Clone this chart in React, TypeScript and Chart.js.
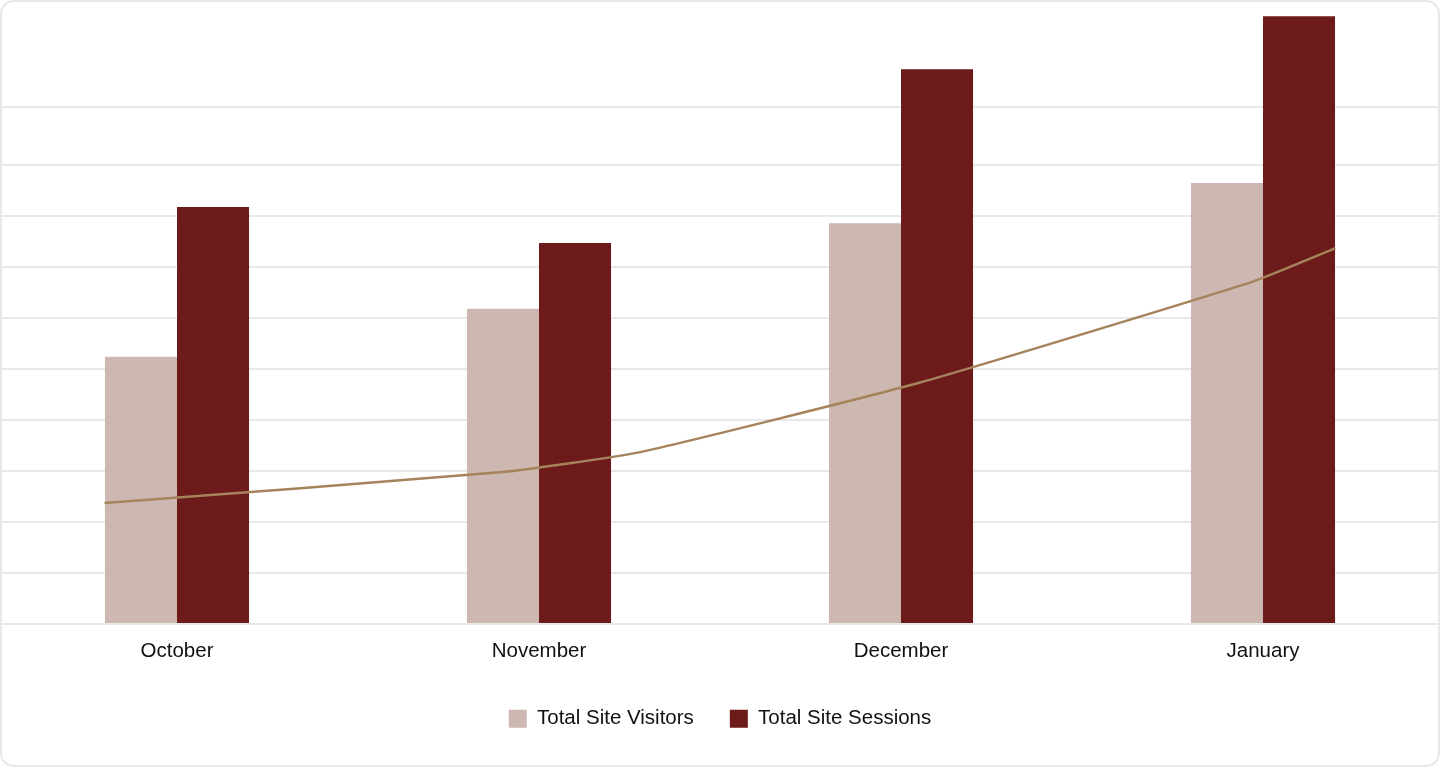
import React, { useEffect, useRef } from "react";
import { Chart, registerables } from "chart.js";

Chart.register(...registerables);

const months = ["October", "November", "December", "January"];
const siteVisitors = [524, 618, 786, 865];
const siteSessions = [818, 747, 1088, 1192];
const trendPositions = [-0.2, 0.9, 1.28, 2.05, 2.97, 3.2];
const trendValues = [237, 298, 337, 473, 671, 737];
const gridTicks = [0, 100, 200, 300, 400, 500, 600, 700, 800, 900, 1014];

const FONT = 'Arial, "Liberation Sans", sans-serif';

export default function App() {
  const ref = useRef<HTMLCanvasElement | null>(null);

  useEffect(() => {
    document.body.style.margin = "0";
    const ctx = ref.current;
    if (!ctx) return;
    const chart = new Chart(ctx, {
      type: "bar",
      data: {
        datasets: [
          {
            type: "bar",
            label: "Total Site Visitors",
            data: siteVisitors.map((y, i) => ({ x: i, y })),
            backgroundColor: "#cdb8b1",
            categoryPercentage: 0.398,
            barPercentage: 1.0,
            order: 2,
          },
          {
            type: "bar",
            label: "Total Site Sessions",
            data: siteSessions.map((y, i) => ({ x: i, y })),
            backgroundColor: "#6d1a1a",
            categoryPercentage: 0.398,
            barPercentage: 1.0,
            order: 2,
          },
          {
            type: "line",
            label: "Trend",
            data: trendPositions.map((x, i) => ({ x, y: trendValues[i] })),
            borderColor: "#a5835b",
            borderWidth: 2.5,
            pointRadius: 0,
            tension: 0.15,
            fill: false,
            order: 0,
          } as any,
        ],
      },
      options: {
        animation: false,
        responsive: true,
        maintainAspectRatio: false,
        layout: { padding: { top: 4, bottom: 28, left: 0, right: 0 } },
        plugins: {
          tooltip: { enabled: false },
          legend: {
            position: "bottom",
            labels: {
              filter: (item: any) => item.datasetIndex !== 2,
              boxWidth: 18,
              boxHeight: 18,
              padding: 36,
              color: "#111",
              font: { family: FONT, size: 20.5 },
            },
          },
        },
        scales: {
          x: {
            type: "linear",
            offset: false,
            min: -0.5,
            max: 3.5,
            grid: { display: false, drawTicks: false },
            border: { display: false },
            afterBuildTicks: (scale: any) => {
              scale.ticks = months.map((_, i) => ({ value: i }));
            },
            ticks: {
              color: "#111",
              font: { family: FONT, size: 20.5 },
              padding: 15,
              maxRotation: 0,
              callback: (value: any) => months[Math.round(Number(value))] ?? "",
            },
            afterFit: (scale: any) => {
              scale.height -= 6;
            },
          },
          y: {
            min: 0,
            max: 1216,
            border: { display: false },
            grid: { color: "#e8e8e8", lineWidth: 2, drawTicks: false },
            ticks: { display: false },
            afterBuildTicks: (scale: any) => {
              scale.ticks = gridTicks.map((v) => ({ value: v }));
            },
          },
        },
      },
    });
    return () => chart.destroy();
  }, []);

  return (
    <div style={{ position: "relative", width: 1440, height: 767, overflow: "hidden", background: "#fff" }}>
      <div style={{ position: "absolute", left: -4, top: 0, width: 1448, height: 767 }}>
        <canvas ref={ref} />
      </div>
      <div
        style={{
          position: "absolute",
          left: 0,
          top: 0,
          width: 1440,
          height: 767,
          boxSizing: "border-box",
          border: "2px solid #e8e8e8",
          borderRadius: 14,
          pointerEvents: "none",
        }}
      />
    </div>
  );
}
